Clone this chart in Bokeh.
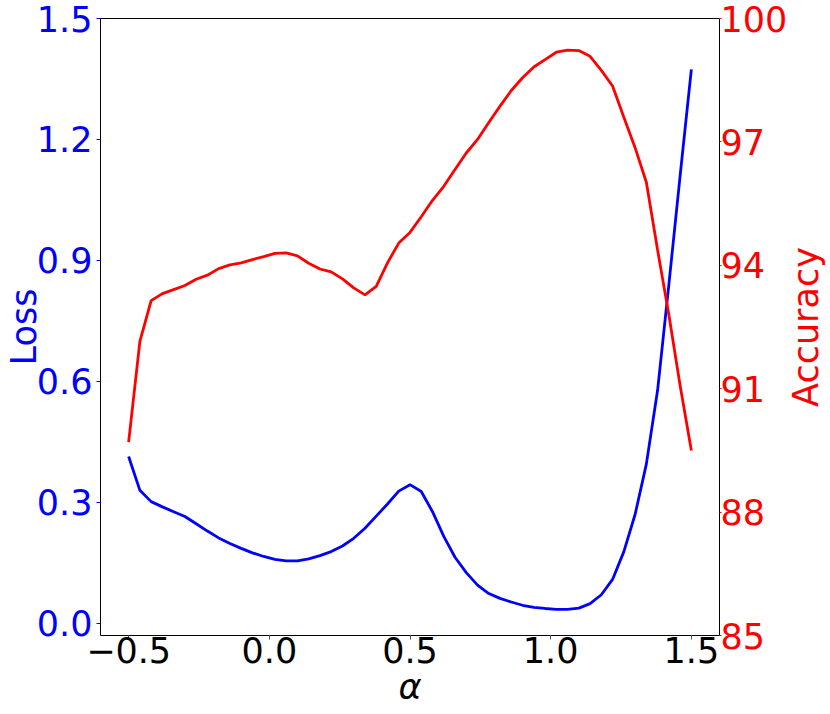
import math
from bokeh.plotting import figure
from bokeh.models import (Range1d, LinearAxis, FixedTicker, NumeralTickFormatter,
                          ColumnDataSource, Label)
from bokeh.embed import file_html
from bokeh.resources import INLINE

# ---- data ----
alpha = [-0.50, -0.46, -0.42, -0.38, -0.34, -0.30, -0.26, -0.22, -0.18, -0.14,
         -0.10, -0.06, -0.02, 0.02, 0.06, 0.10, 0.14, 0.18, 0.22, 0.26,
         0.30, 0.34, 0.38, 0.42, 0.46, 0.50, 0.54, 0.58, 0.62, 0.66,
         0.70, 0.74, 0.78, 0.82, 0.86, 0.90, 0.94, 0.98, 1.02, 1.06,
         1.10, 1.14, 1.18, 1.22, 1.26, 1.30, 1.34, 1.38, 1.42, 1.46, 1.50]

loss = [0.414, 0.330, 0.302, 0.289, 0.277, 0.265, 0.247, 0.229, 0.212, 0.198,
        0.186, 0.175, 0.166, 0.159, 0.155, 0.155, 0.160, 0.168, 0.178, 0.192,
        0.211, 0.236, 0.266, 0.296, 0.328, 0.344, 0.327, 0.277, 0.216, 0.164,
        0.126, 0.095, 0.074, 0.062, 0.053, 0.045, 0.040, 0.037, 0.035, 0.035,
        0.038, 0.049, 0.071, 0.109, 0.178, 0.270, 0.395, 0.578, 0.840, 1.110, 1.374]

accuracy = [89.70, 92.15, 93.14, 93.31, 93.41, 93.51, 93.66, 93.76, 93.92, 94.01,
            94.06, 94.14, 94.21, 94.29, 94.30, 94.23, 94.05, 93.91, 93.84, 93.67,
            93.45, 93.28, 93.49, 94.06, 94.54, 94.80, 95.18, 95.58, 95.92, 96.33,
            96.73, 97.06, 97.47, 97.87, 98.25, 98.56, 98.82, 99.00, 99.18, 99.23,
            99.22, 99.08, 98.74, 98.36, 97.60, 96.86, 96.02, 94.37, 92.80, 91.08, 89.50]

x_ticks = [-0.5, 0.0, 0.5, 1.0, 1.5]
loss_ticks = [0.0, 0.3, 0.6, 0.9, 1.2, 1.5]
acc_ticks = [85, 88, 91, 94, 97, 100]

FONT = "DejaVu Sans"
FS = "35px"
BLUE = "#0000ff"
RED = "#ff0000"

src = ColumnDataSource(dict(alpha=alpha, loss=loss, acc=accuracy))

p = figure(width=830, height=714, output_backend="svg", toolbar_location=None,
           x_range=Range1d(-0.6, 1.6), y_range=Range1d(-0.03, 1.5),
           min_border_left=99, min_border_right=110, min_border_top=18,
           min_border_bottom=79)
p.extra_y_ranges = {"acc": Range1d(85, 100)}

p.xgrid.visible = False
p.ygrid.visible = False
p.outline_line_color = "black"
p.outline_line_width = 1
p.background_fill_color = "white"
p.border_fill_color = "white"


def style_axis(ax, color, tick_color, standoff, tick_out=4):
    ax.major_label_text_font = FONT
    ax.major_label_text_font_size = FS
    ax.major_label_text_color = color
    ax.major_tick_line_color = tick_color
    ax.major_tick_out = tick_out
    ax.major_tick_in = 0
    ax.minor_tick_line_color = None
    ax.axis_line_color = None
    ax.major_label_standoff = standoff
    ax.axis_label_text_font = FONT
    ax.axis_label_text_font_size = FS
    ax.axis_label_text_color = color
    ax.axis_label_text_font_style = "normal"


# bottom axis
xa = p.xaxis[0]
xa.ticker = FixedTicker(ticks=x_ticks)
xa.major_label_overrides = {-0.5: "\u22120.5", 0.0: "0.0", 0.5: "0.5", 1.0: "1.0", 1.5: "1.5"}
style_axis(xa, "black", "#555555", -3)
xa.axis_label = "\u03b1"
xa.axis_label_text_font_style = "italic"
xa.axis_label_standoff = 1

# left axis
ya = p.yaxis[0]
ya.ticker = FixedTicker(ticks=loss_ticks)
ya.formatter = NumeralTickFormatter(format="0.0")
style_axis(ya, BLUE, BLUE, 4)
ya.axis_label = "Loss"
ya.axis_label_standoff = -10

# right axis (its title is a side-panel label so it reads bottom-to-top, centred)
ra = LinearAxis(y_range_name="acc")
ra.ticker = FixedTicker(ticks=acc_ticks)
style_axis(ra, RED, RED, -1, tick_out=2)
p.add_layout(ra, "right")

label_kw = dict(y=0.5 * (85 + 100), y_units="data", y_range_name="acc", text="Accuracy",
                text_font=FONT, text_font_size=FS, text_color=RED,
                angle=math.pi / 2, text_align="center", text_baseline="alphabetic")
try:
    acc_label = Label(x=805, x_units="canvas", **label_kw)
except Exception:
    acc_label = Label(x=10, x_units="screen", **label_kw)
p.add_layout(acc_label, "right")

# lines
p.line("alpha", "loss", source=src, line_color=BLUE, line_width=2.8)
p.line("alpha", "acc", source=src, line_color=RED, line_width=2.8, y_range_name="acc")

open("out.html", "w").write(file_html(p, INLINE))
